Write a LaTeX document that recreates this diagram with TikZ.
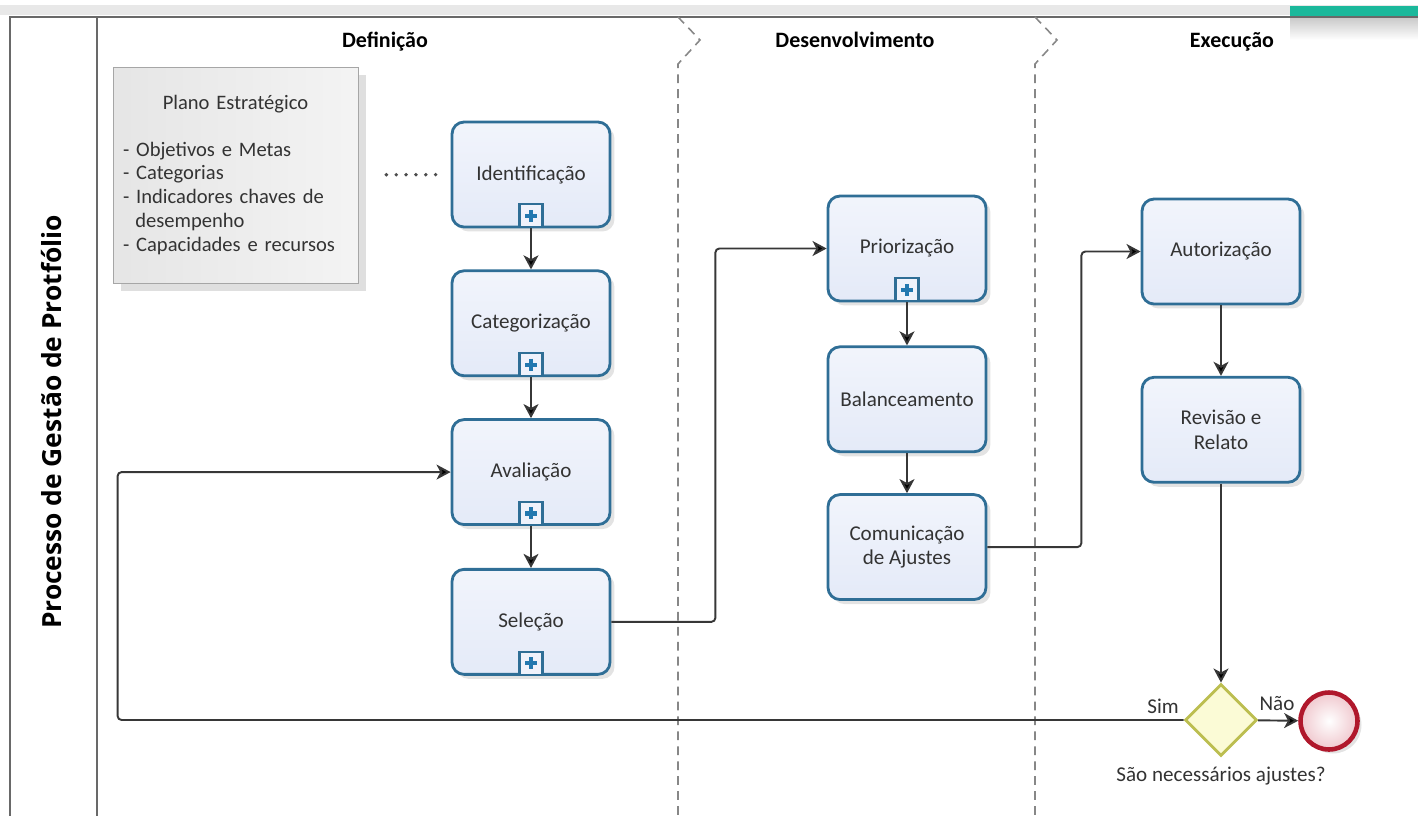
\documentclass[tikz,border=0pt]{standalone}
\usepackage{fontspec}
\setmainfont{Carlito}
\newfontfamily\titlefont{Open Sans}
\usetikzlibrary{positioning,shapes.geometric,arrows.meta,shadows,calc}
\definecolor{taskblue}{RGB}{47,110,150}
\definecolor{taskfill}{RGB}{228,234,248}
\definecolor{plusblue}{RGB}{35,120,175}
\definecolor{gwborder}{RGB}{188,190,80}
\definecolor{gwfill}{RGB}{251,251,214}
\definecolor{endred}{RGB}{176,24,44}
\definecolor{endfill}{RGB}{240,200,206}
\definecolor{laneline}{RGB}{105,105,105}
\definecolor{flowgray}{RGB}{55,55,55}
\definecolor{tealbar}{RGB}{26,184,155}

\tikzset{
  task/.style={draw=taskblue, line width=1.6pt, rounded corners=0.24cm,
    top color=white!50!taskfill, bottom color=taskfill,
    minimum width=3.16cm, minimum height=2.1cm, align=center,
    font=\fontsize{12}{14}\selectfont, text=black!80,
    drop shadow={opacity=0.22, shadow xshift=0.09cm, shadow yshift=-0.09cm}},
  plusbox/.style={draw=taskblue, line width=1.2pt, fill=white!40!taskfill,
    minimum size=0.46cm, inner sep=0pt, rounded corners=0pt},
  plussign/.style={draw=plusblue, line width=2.4pt},
  plano/.style={draw=gray!70, line width=0.5pt, left color=gray!20, right color=gray!9,
    text width=4.5cm, inner xsep=0.2cm, minimum height=4.32cm,
    font=\fontsize{11.7}{13.6}\selectfont, text=black!80,
    drop shadow={opacity=0.25, shadow xshift=0.16cm, shadow yshift=-0.16cm}},
  flow/.style={draw=flowgray, line width=1.1pt, rounded corners=0.08cm,
    -{Stealth[length=8pt,width=8.5pt,inset=2.2pt,fill=black]}},
  lanehead/.style={font=\bfseries\fontsize{12.5}{14}\selectfont, anchor=base},
  lbl/.style={font=\fontsize{12}{13}\selectfont, text=black!80},
  lane/.style={draw=laneline, line width=1.3pt},
  phase/.style={draw=laneline!80, line width=0.9pt, dash pattern=on 5pt off 3.5pt}
}

\begin{document}
\begin{tikzpicture}[x=0.02cm, y=-0.02cm]
  \useasboundingbox (0,0) rectangle (1418,816);

  % top band
  \fill[gray!18] (0,5) rectangle (1418,15);
  \shade[top color=gray!45, bottom color=white] (1290,16) rectangle (1418,40);
  \fill[tealbar] (1290,6) rectangle (1418,16);

  % pool and lanes
  \draw[lane] (1418,17) -- (10,17) -- (10,816);
  \draw[lane] (97,17) -- (97,816);
  \draw[phase] (678,17) -- (700,40) -- (678,64) -- (678,816);
  \draw[phase] (1035,17) -- (1057,40) -- (1035,64) -- (1035,816);

  \node[rotate=90, font=\titlefont\bfseries\fontsize{15}{17}\selectfont] (pool) at (52,422) {Processo de Gestão de Protfólio};

  \node[lanehead] (defin) at (385,47) {Definição};
  \node[lanehead] (desenv) at (855,47) {Desenvolvimento};
  \node[lanehead] (exec) at (1232,47) {Execução};

  % Definicao
  \node[plano] (plano) at (235.5,175) {\centering Plano Estratégico\par\vspace{13pt}\raggedright
    - Objetivos e Metas\\- Categorias\\- Indicadores chaves de\\\hspace*{0.6em}desempenho\\- Capacidades e recursos\par};

  \node[task] (ident) at (531,174.5) {Identificação};
  \node[task, below=0.82cm of ident] (categ) {Categorização};
  \node[task, below=0.82cm of categ] (aval) {Avaliação};
  \node[task, below=0.84cm of aval] (sel) {Seleção};

  % Desenvolvimento
  \node[task] (prior) at (907,248.5) {Priorização};
  \node[task, below=0.86cm of prior] (balanc) {Balanceamento};
  \node[task, below=0.8cm of balanc] (comun) {Comunicação\\de Ajustes};

  % Execucao
  \node[task] (autor) at (1221,251.5) {Autorização};
  \node[task, below=1.41cm of autor] (revis) {Revisão e\\Relato};

  \node[diamond, aspect=1, draw=gwborder, line width=1.6pt, fill=gwfill,
    minimum width=1.44cm, minimum height=1.44cm, inner sep=0pt] (gw) at (1221,720) {};
  \node[circle, draw=endred, line width=2.6pt, inner color=white, outer color=endfill,
    minimum size=1.14cm, drop shadow={opacity=0.22, shadow xshift=0.08cm, shadow yshift=-0.08cm}] (fim) at (1329,721) {};

  \node[lbl] (sim) at (1163,706) {Sim};
  \node[lbl] (nao) at (1277,704) {Não};
  \node[lbl, below=0.06cm of gw] (ajustes) {São necessários ajustes?};

  % subprocess markers
  \foreach \n in {ident,categ,aval,sel,prior} {
    \node[plusbox, above=0pt of \n.south] (plus-\n) {};
    \draw[plussign] (plus-\n.center) ++(-6,0) -- ++(12,0);
    \draw[plussign] (plus-\n.center) ++(0,-6) -- ++(0,12);
  }

  % connectors
  \draw[dash pattern=on 0pt off 5.6pt, line cap=round, line width=2.2pt, black!70,
    shorten <=0.56cm, shorten >=0.14cm] (plano) -- (ident);
  \draw[flow] (ident) -- (categ);
  \draw[flow] (categ) -- (aval);
  \draw[flow] (aval) -- (sel);
  \draw[flow] (sel.east) -- ++(104,0) |- (prior.west);
  \draw[flow] (prior) -- (balanc);
  \draw[flow] (balanc) -- (comun);
  \draw[flow] (comun.east) -- ++(94,0) |- (autor.west);
  \draw[flow] (autor) -- (revis);
  \draw[flow] (revis) -- (gw);
  \draw[flow] (gw) -- (fim);
  \draw[flow] (gw.west) -- ++(-1066,0) |- (aval.west);
\end{tikzpicture}
\end{document}
